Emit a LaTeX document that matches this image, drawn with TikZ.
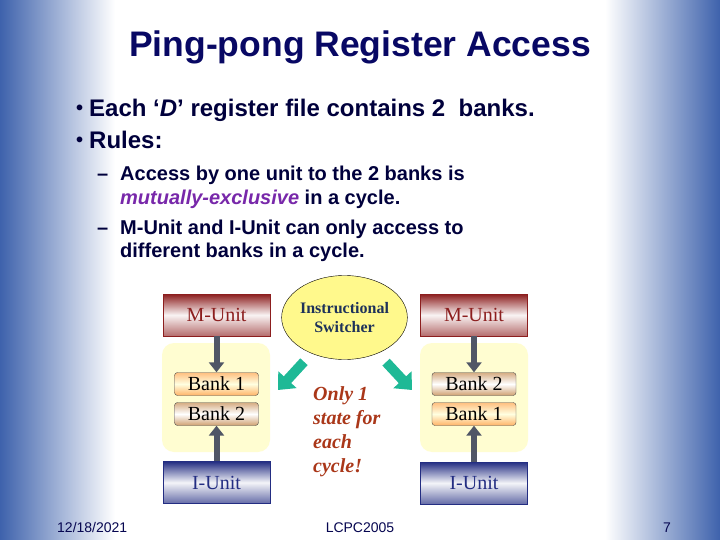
\documentclass[tikz,border=0pt]{standalone}
\usepackage{fontspec}
\setmainfont{Liberation Serif}
\setsansfont{Liberation Sans}
\usetikzlibrary{arrows.meta,shapes.geometric}
\definecolor{slideblue}{RGB}{62,98,172}
\definecolor{slidenavy}{RGB}{8,8,100}
\definecolor{bodynavy}{RGB}{0,0,60}
\definecolor{mutexpurple}{RGB}{120,40,170}
\definecolor{unitred}{RGB}{140,30,30}
\definecolor{unitblue}{RGB}{35,45,130}
\definecolor{swtext}{RGB}{30,50,90}
\definecolor{notered}{RGB}{170,55,25}
\definecolor{turq}{RGB}{30,185,150}
\tikzset{
  bodytext/.style={anchor=base west, inner sep=0pt, text=bodynavy},
  unitbox/.style={minimum width=107pt, minimum height=42pt, inner sep=0pt,
    font=\fontsize{20}{24}\selectfont},
  munit/.style={unitbox, draw=unitred, text=unitred, top color=unitred,
    bottom color=unitred!65, middle color=unitred!5},
  iunit/.style={unitbox, draw=unitblue, text=unitblue, top color=unitblue,
    bottom color=unitblue!70, middle color=unitblue!5},
  bankbox/.style={minimum width=84pt, minimum height=23pt, inner sep=0pt,
    rounded corners=3pt, draw=black!70, font=\fontsize{20}{24}\selectfont},
  bankone/.style={bankbox, top color=orange!50, bottom color=orange!60, middle color=yellow!12},
  banktwo/.style={bankbox, top color=brown!65, bottom color=brown!75, middle color=white},
  feedarrow/.style={line width=6pt, draw={rgb,255:red,80;green,86;blue,102},
    -{Triangle[length=10pt,width=15pt]}},
  switcharrow/.style={line width=10pt, draw=turq, -{Triangle[length=14pt,width=24pt]}},
}

\begin{document}
\begin{tikzpicture}[x=1pt,y=-1pt]
		%%%%% BACKGROUND %%%%%
		\useasboundingbox (0,0) rectangle (720,540);
		\fill[white] (0,0) rectangle (720,540);
		\shade[left color=slideblue, right color=white] (0,0) rectangle (115,540);
		\shade[left color=white, right color=slideblue] (605,0) rectangle (720,540);
		
		%%%%% TEXT %%%%%
		\node[font=\sffamily\bfseries\fontsize{35.5}{42}\selectfont, text=slidenavy] (title) at (360,47) {Ping-pong Register Access};
		
		\node[bodytext, font=\sffamily\bfseries\fontsize{20}{24}\selectfont] (dotone) at (76,115) {•};
		\node[bodytext, font=\sffamily\bfseries\fontsize{24}{28}\selectfont] (pointone) at (89,116.5) {Each ‘\textit{D}’ register file contains 2~ banks.};
		\node[bodytext, font=\sffamily\bfseries\fontsize{20}{24}\selectfont] (dottwo) at (76,147) {•};
		\node[bodytext, font=\sffamily\bfseries\fontsize{24}{28}\selectfont] (pointtwo) at (89,148.5) {Rules:};
		
		\node[bodytext, font=\sffamily\bfseries\fontsize{20}{24}\selectfont] (dashone) at (97,181) {–};
		\node[bodytext, font=\sffamily\bfseries\fontsize{20}{24}\selectfont] (ruleone) at (120,181) {Access by one unit to the 2 banks is};
		\node[bodytext, font=\sffamily\bfseries\fontsize{20}{24}\selectfont] (ruleonecont) at (120,205) {\textcolor{mutexpurple}{\textit{mutually-exclusive}} in a cycle.};
		\node[bodytext, font=\sffamily\bfseries\fontsize{20}{24}\selectfont] (dashtwo) at (97,234) {–};
		\node[bodytext, font=\sffamily\bfseries\fontsize{20}{24}\selectfont] (ruletwo) at (120,234) {M-Unit and I-Unit can only access to};
		\node[bodytext, font=\sffamily\bfseries\fontsize{20}{24}\selectfont] (ruletwocont) at (120,258) {different banks in a cycle.};
		
		%%%%% LEFT REGISTER FILE %%%%%
		\fill[yellow!18, rounded corners=12pt] (162,343) rectangle (270,452);
		\node[munit] (lmu) at (216.5,315) {M-Unit};
		\node[bankone] (lbone) at (216.5,384) {Bank 1};
		\node[banktwo] (lbtwo) at (216.5,414) {Bank 2};
		\node[iunit] (liu) at (216.5,482.5) {I-Unit};
		\draw[feedarrow] (lmu) -- (lbone);
		\draw[feedarrow] (liu) -- (lbtwo);
		
		%%%%% RIGHT REGISTER FILE %%%%%
		\fill[yellow!18, rounded corners=12pt] (420,343) rectangle (528,452);
		\node[munit] (rmu) at (474,315) {M-Unit};
		\node[banktwo] (rbtwo) at (474,384) {Bank 2};
		\node[bankone] (rbone) at (474,414) {Bank 1};
		\node[iunit] (riu) at (474,483) {I-Unit};
		\draw[feedarrow] (rmu) -- (rbtwo);
		\draw[feedarrow] (riu) -- (rbone);
		
		%%%%% SWITCHER %%%%%
		\node[ellipse, draw=black, fill=yellow!45, minimum width=102pt, minimum height=84pt, inner sep=0pt,
			align=center, text=swtext, font=\bfseries\fontsize{16}{19}\selectfont] (sw) at (344.5,317.5) {Instructional\\Switcher};
		\coordinate (lefttip) at (278,390);
		\coordinate (righttip) at (412,390);
		\draw[switcharrow, shorten <=60pt] (sw.center) -- (lefttip);
		\draw[switcharrow, shorten <=61pt] (sw.center) -- (righttip);
		
		\node[anchor=north west, inner sep=0pt, align=left, text=notered,
			font=\bfseries\itshape\fontsize{20}{24}\selectfont] (note) at (313,386) {Only 1\\state for\\each\\cycle!};
		
		%%%%% FOOTER %%%%%
		\node[bodytext, text=slidenavy!80!black, font=\sffamily\fontsize{14}{17}\selectfont] (date) at (57,532) {12/18/2021};
		\node[anchor=base, inner sep=0pt, text=slidenavy!80!black, font=\sffamily\fontsize{14}{17}\selectfont] (conf) at (360,532) {LCPC2005};
		\node[bodytext, text=slidenavy!80!black, font=\sffamily\fontsize{14}{17}\selectfont] (page) at (663,532) {7};
		
\end{tikzpicture}
\end{document}
